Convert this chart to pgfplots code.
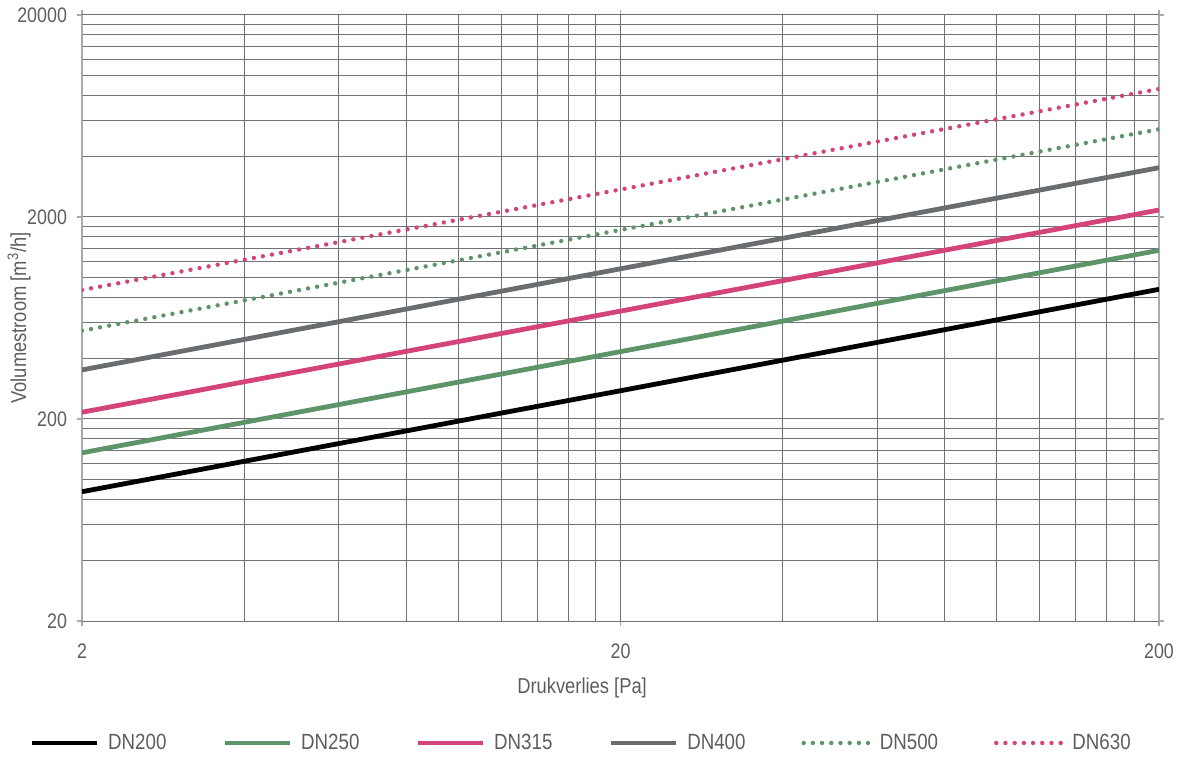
\documentclass[border=0pt]{standalone}
\usepackage{fontspec}
\setmainfont{Liberation Sans}[FakeStretch=0.85]
\usepackage{pgfplots}
\pgfplotsset{compat=1.18}
\usetikzlibrary{calc}
\definecolor{cgreen}{HTML}{5E9469}
\definecolor{cpink}{HTML}{D3457A}
\definecolor{cgrey}{HTML}{6A6D70}
\definecolor{gridc}{HTML}{707376}
\definecolor{axc}{HTML}{A8ABAD}
\definecolor{txtc}{HTML}{5B5E61}
\begin{document}
\begin{tikzpicture}
\begin{axis}[
  name=ax, at={(0,0)}, anchor=south west,
  scale only axis, width=538.5pt, height=303pt,
  xmode=log, ymode=log,
  xmin=2, xmax=200, ymin=20, ymax=20000,
  xtick={2,20,200}, xticklabels={2,20,200},
  ytick={20,200,2000,20000}, yticklabels={20,200,2000,20000},
  minor xtick={4,6,8,10,12,14,16,18,40,60,80,100,120,140,160,180},
  minor ytick={40,60,80,100,120,140,160,180,400,600,800,1000,1200,1400,1600,1800,4000,6000,8000,10000,12000,14000,16000,18000},
  grid=both,
  major grid style={draw=gridc, line width=0.5pt},
  minor grid style={draw=gridc, line width=0.5pt},
  tick align=outside, major tick length=2.5pt, minor tick length=0pt,
  tick style={draw=axc, line width=0.6pt},
  separate axis lines,
  x axis line style={draw=gridc, line width=0.5pt},
  y axis line style={draw=axc, line width=0.9pt},
  ticklabel style={font=\fontsize{10.5pt}{12pt}\selectfont, text=txtc},
  xticklabel style={yshift=-5.5pt},
  yticklabel style={xshift=-1.5pt},
  xlabel={Drukverlies [Pa]},
  ylabel={Volumestroom [m\textsuperscript{3}/h]},
  label style={font=\fontsize{10.8pt}{13pt}\selectfont, text=txtc},
  xlabel style={at={(axis description cs:0.4643,-0.1106)}, anchor=center},
  ylabel style={at={(axis description cs:-0.0585,0.5)}, anchor=center},
  legend columns=6,
  legend style={draw=none, fill=none, inner sep=0pt,
    at={(axis description cs:-0.0492,-0.2013)}, anchor=west,
    font=\fontsize{11pt}{13pt}\selectfont, text=txtc,
    nodes={inner sep=0pt},
    /tikz/every odd column/.append style={column sep=4.5pt},
    /tikz/every even column/.append style={column sep=28pt}},
  legend image code/.code={\draw[#1] (0pt,0pt) -- (32.5pt,0pt);},
  solidline/.style={line width=2.4pt},
  dotline/.style={line width=2.2pt, line cap=round, dash pattern=on 0pt off 4.6pt},
]
\addplot[black, solidline] coordinates {(2,87.3) (20,276) (200,877)};
\addlegendentry{DN200}
\addplot[cgreen, solidline] coordinates {(2,136) (20,431) (200,1368)};
\addlegendentry{DN250}
\addplot[cpink, solidline] coordinates {(2,216) (20,684) (200,2166)};
\addlegendentry{DN315}
\addplot[cgrey, solidline] coordinates {(2,350) (20,1108) (200,3508)};
\addlegendentry{DN400}
\addplot[cgreen, dotline] coordinates {(2,547) (20,1725) (200,5437)};
\addlegendentry{DN500}
\addplot[cpink, dotline] coordinates {(2,870) (20,2736) (200,8606)};
\addlegendentry{DN630}
\end{axis}
\pgfresetboundingbox
\path[use as bounding box] ($(ax.south west)+(-41pt,-69.5pt)$) rectangle ($(ax.south west)+(549.5pt,310.5pt)$);
\end{tikzpicture}
\end{document}
